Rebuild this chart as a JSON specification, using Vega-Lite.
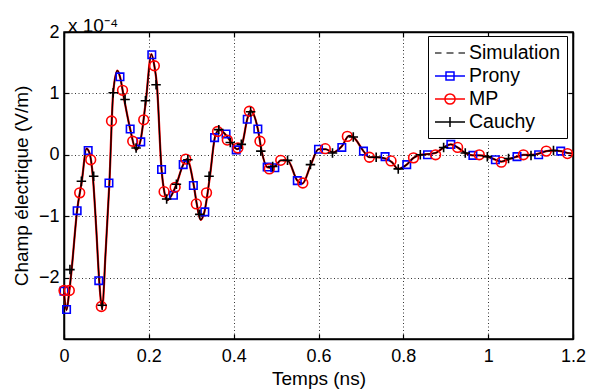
{
  "$schema": "https://vega.github.io/schema/vega-lite/v6.json",
  "width": 509,
  "height": 307,
  "autosize": {"type": "none"},
  "padding": {"left": 64, "top": 32, "right": 22, "bottom": 50},
  "background": "white",
  "title": {"text": "x 10⁻⁴", "anchor": "start", "frame": "group", "orient": "top", "font": "Liberation Sans", "fontSize": 19, "fontWeight": "normal", "dx": 4, "dy": 5, "offset": -8, "color": "black"},
  "config": {
    "view": {"stroke": "black", "strokeWidth": 1.5},
    "font": "Liberation Sans",
    "axis": {
      "domainColor": "black", "domainWidth": 1.5,
      "tickColor": "black", "tickWidth": 1.2, "tickSize": -5,
      "labelColor": "black", "labelFontSize": 18, "labelFont": "Liberation Sans",
      "titleColor": "black", "titleFontSize": 19, "titleFontWeight": "normal", "titleFont": "Liberation Sans",
      "gridColor": "black", "gridOpacity": 1, "gridWidth": 0.8, "gridDash": [1, 2.5]
    }
  },
  "datasets": {
    "curve": [
      {"series": "Simulation", "t": 0, "e": -2.25e-4},
      {"series": "Simulation", "t": 0.006, "e": -2.53e-4},
      {"series": "Simulation", "t": 0.012, "e": -2.25e-4},
      {"series": "Simulation", "t": 0.018, "e": -1.87e-4},
      {"series": "Simulation", "t": 0.031, "e": -0.9e-4},
      {"series": "Simulation", "t": 0.042, "e": -0.43e-4},
      {"series": "Simulation", "t": 0.053, "e": 0.1e-4},
      {"series": "Simulation", "t": 0.06, "e": 0.03e-4},
      {"series": "Simulation", "t": 0.068, "e": -0.35e-4},
      {"series": "Simulation", "t": 0.076, "e": -1.2e-4},
      {"series": "Simulation", "t": 0.083, "e": -2.05e-4},
      {"series": "Simulation", "t": 0.09, "e": -2.5e-4},
      {"series": "Simulation", "t": 0.098, "e": -1.6e-4},
      {"series": "Simulation", "t": 0.107, "e": -0.46e-4},
      {"series": "Simulation", "t": 0.116, "e": 1.01e-4},
      {"series": "Simulation", "t": 0.126, "e": 1.37e-4},
      {"series": "Simulation", "t": 0.132, "e": 1.27e-4},
      {"series": "Simulation", "t": 0.142, "e": 0.9e-4},
      {"series": "Simulation", "t": 0.156, "e": 0.42e-4},
      {"series": "Simulation", "t": 0.17, "e": 0.08e-4},
      {"series": "Simulation", "t": 0.18, "e": 0.22e-4},
      {"series": "Simulation", "t": 0.193, "e": 0.88e-4},
      {"series": "Simulation", "t": 0.206, "e": 1.64e-4},
      {"series": "Simulation", "t": 0.213, "e": 1.45e-4},
      {"series": "Simulation", "t": 0.219, "e": 1.14e-4},
      {"series": "Simulation", "t": 0.23, "e": -0.24e-4},
      {"series": "Simulation", "t": 0.237, "e": -0.62e-4},
      {"series": "Simulation", "t": 0.243, "e": -0.74e-4},
      {"series": "Simulation", "t": 0.258, "e": -0.6e-4},
      {"series": "Simulation", "t": 0.265, "e": -0.48e-4},
      {"series": "Simulation", "t": 0.281, "e": -0.16e-4},
      {"series": "Simulation", "t": 0.29, "e": -0.07e-4},
      {"series": "Simulation", "t": 0.306, "e": -0.5e-4},
      {"series": "Simulation", "t": 0.313, "e": -0.8e-4},
      {"series": "Simulation", "t": 0.322, "e": -1.06e-4},
      {"series": "Simulation", "t": 0.331, "e": -0.93e-4},
      {"series": "Simulation", "t": 0.344, "e": -0.35e-4},
      {"series": "Simulation", "t": 0.356, "e": 0.29e-4},
      {"series": "Simulation", "t": 0.366, "e": 0.41e-4},
      {"series": "Simulation", "t": 0.382, "e": 0.32e-4},
      {"series": "Simulation", "t": 0.396, "e": 0.19e-4},
      {"series": "Simulation", "t": 0.408, "e": 0.09e-4},
      {"series": "Simulation", "t": 0.42, "e": 0.18e-4},
      {"series": "Simulation", "t": 0.432, "e": 0.58e-4},
      {"series": "Simulation", "t": 0.44, "e": 0.72e-4},
      {"series": "Simulation", "t": 0.457, "e": 0.42e-4},
      {"series": "Simulation", "t": 0.466, "e": 0.06e-4},
      {"series": "Simulation", "t": 0.479, "e": -0.2e-4},
      {"series": "Simulation", "t": 0.49, "e": -0.21e-4},
      {"series": "Simulation", "t": 0.5, "e": -0.17e-4},
      {"series": "Simulation", "t": 0.511, "e": -0.09e-4},
      {"series": "Simulation", "t": 0.527, "e": -0.09e-4},
      {"series": "Simulation", "t": 0.55, "e": -0.42e-4},
      {"series": "Simulation", "t": 0.562, "e": -0.47e-4},
      {"series": "Simulation", "t": 0.582, "e": -0.16e-4},
      {"series": "Simulation", "t": 0.6, "e": 0.09e-4},
      {"series": "Simulation", "t": 0.617, "e": 0.09e-4},
      {"series": "Simulation", "t": 0.634, "e": 0.04e-4},
      {"series": "Simulation", "t": 0.655, "e": 0.14e-4},
      {"series": "Simulation", "t": 0.672, "e": 0.31e-4},
      {"series": "Simulation", "t": 0.682, "e": 0.29e-4},
      {"series": "Simulation", "t": 0.706, "e": 0.06e-4},
      {"series": "Simulation", "t": 0.72, "e": -0.04e-4},
      {"series": "Simulation", "t": 0.736, "e": -0.04e-4},
      {"series": "Simulation", "t": 0.757, "e": -0.06e-4},
      {"series": "Simulation", "t": 0.773, "e": -0.12e-4},
      {"series": "Simulation", "t": 0.788, "e": -0.23e-4},
      {"series": "Simulation", "t": 0.808, "e": -0.16e-4},
      {"series": "Simulation", "t": 0.824, "e": -0.05e-4},
      {"series": "Simulation", "t": 0.84, "e": 0},
      {"series": "Simulation", "t": 0.857, "e": 0.01e-4},
      {"series": "Simulation", "t": 0.876, "e": 0.03e-4},
      {"series": "Simulation", "t": 0.895, "e": 0.12e-4},
      {"series": "Simulation", "t": 0.912, "e": 0.17e-4},
      {"series": "Simulation", "t": 0.928, "e": 0.12e-4},
      {"series": "Simulation", "t": 0.946, "e": 0.03e-4},
      {"series": "Simulation", "t": 0.964, "e": -0.01e-4},
      {"series": "Simulation", "t": 0.979, "e": -0.01e-4},
      {"series": "Simulation", "t": 0.998, "e": -0.03e-4},
      {"series": "Simulation", "t": 1.017, "e": -0.08e-4},
      {"series": "Simulation", "t": 1.031, "e": -0.11e-4},
      {"series": "Simulation", "t": 1.048, "e": -0.07e-4},
      {"series": "Simulation", "t": 1.068, "e": -0.03e-4},
      {"series": "Simulation", "t": 1.083, "e": 0},
      {"series": "Simulation", "t": 1.101, "e": 0},
      {"series": "Simulation", "t": 1.119, "e": 0.02e-4},
      {"series": "Simulation", "t": 1.137, "e": 0.06e-4},
      {"series": "Simulation", "t": 1.154, "e": 0.07e-4},
      {"series": "Simulation", "t": 1.171, "e": 0.06e-4},
      {"series": "Simulation", "t": 1.187, "e": 0.03e-4},
      {"series": "Simulation", "t": 1.2, "e": 0.02e-4}
    ],
    "markers": [
      {"series": "Prony", "t": 0, "e": -2.22e-4},
      {"series": "Prony", "t": 0.006, "e": -2.52e-4},
      {"series": "Prony", "t": 0.031, "e": -0.91e-4},
      {"series": "Prony", "t": 0.057, "e": 0.07e-4},
      {"series": "Prony", "t": 0.082, "e": -2.05e-4},
      {"series": "Prony", "t": 0.106, "e": -0.46e-4},
      {"series": "Prony", "t": 0.132, "e": 1.27e-4},
      {"series": "Prony", "t": 0.156, "e": 0.42e-4},
      {"series": "Prony", "t": 0.181, "e": 0.21e-4},
      {"series": "Prony", "t": 0.207, "e": 1.63e-4},
      {"series": "Prony", "t": 0.23, "e": -0.24e-4},
      {"series": "Prony", "t": 0.258, "e": -0.66e-4},
      {"series": "Prony", "t": 0.281, "e": -0.16e-4},
      {"series": "Prony", "t": 0.305, "e": -0.5e-4},
      {"series": "Prony", "t": 0.332, "e": -0.93e-4},
      {"series": "Prony", "t": 0.355, "e": 0.28e-4},
      {"series": "Prony", "t": 0.382, "e": 0.34e-4},
      {"series": "Prony", "t": 0.406, "e": 0.08e-4},
      {"series": "Prony", "t": 0.432, "e": 0.58e-4},
      {"series": "Prony", "t": 0.457, "e": 0.42e-4},
      {"series": "Prony", "t": 0.479, "e": -0.2e-4},
      {"series": "Prony", "t": 0.497, "e": -0.21e-4},
      {"series": "Prony", "t": 0.55, "e": -0.42e-4},
      {"series": "Prony", "t": 0.6, "e": 0.09e-4},
      {"series": "Prony", "t": 0.655, "e": 0.12e-4},
      {"series": "Prony", "t": 0.706, "e": 0.06e-4},
      {"series": "Prony", "t": 0.757, "e": -0.03e-4},
      {"series": "Prony", "t": 0.808, "e": -0.16e-4},
      {"series": "Prony", "t": 0.857, "e": 0},
      {"series": "Prony", "t": 0.912, "e": 0.17e-4},
      {"series": "Prony", "t": 0.964, "e": -0.01e-4},
      {"series": "Prony", "t": 1.017, "e": -0.08e-4},
      {"series": "Prony", "t": 1.068, "e": -0.03e-4},
      {"series": "Prony", "t": 1.119, "e": 0},
      {"series": "Prony", "t": 1.171, "e": 0.06e-4},
      {"series": "MP", "t": 0, "e": -2.21e-4},
      {"series": "MP", "t": 0.0125, "e": -2.21e-4},
      {"series": "MP", "t": 0.037, "e": -0.62e-4},
      {"series": "MP", "t": 0.063, "e": -0.08e-4},
      {"series": "MP", "t": 0.088, "e": -2.47e-4},
      {"series": "MP", "t": 0.112, "e": 0.55e-4},
      {"series": "MP", "t": 0.138, "e": 1.05e-4},
      {"series": "MP", "t": 0.162, "e": 0.22e-4},
      {"series": "MP", "t": 0.188, "e": 0.57e-4},
      {"series": "MP", "t": 0.213, "e": 1.45e-4},
      {"series": "MP", "t": 0.236, "e": -0.6e-4},
      {"series": "MP", "t": 0.262, "e": -0.53e-4},
      {"series": "MP", "t": 0.287, "e": -0.07e-4},
      {"series": "MP", "t": 0.312, "e": -0.8e-4},
      {"series": "MP", "t": 0.336, "e": -0.62e-4},
      {"series": "MP", "t": 0.362, "e": 0.38e-4},
      {"series": "MP", "t": 0.385, "e": 0.24e-4},
      {"series": "MP", "t": 0.41, "e": 0.11e-4},
      {"series": "MP", "t": 0.437, "e": 0.71e-4},
      {"series": "MP", "t": 0.462, "e": 0.22e-4},
      {"series": "MP", "t": 0.484, "e": -0.23e-4},
      {"series": "MP", "t": 0.511, "e": -0.09e-4},
      {"series": "MP", "t": 0.563, "e": -0.46e-4},
      {"series": "MP", "t": 0.616, "e": 0.1e-4},
      {"series": "MP", "t": 0.668, "e": 0.3e-4},
      {"series": "MP", "t": 0.72, "e": -0.04e-4},
      {"series": "MP", "t": 0.771, "e": -0.1e-4},
      {"series": "MP", "t": 0.824, "e": -0.05e-4},
      {"series": "MP", "t": 0.876, "e": 0},
      {"series": "MP", "t": 0.928, "e": 0.12e-4},
      {"series": "MP", "t": 0.979, "e": 0},
      {"series": "MP", "t": 1.031, "e": -0.12e-4},
      {"series": "MP", "t": 1.083, "e": 0},
      {"series": "MP", "t": 1.137, "e": 0.06e-4},
      {"series": "MP", "t": 1.187, "e": 0.02e-4},
      {"series": "Cauchy", "t": 0.014, "e": -1.87e-4},
      {"series": "Cauchy", "t": 0.041, "e": -0.43e-4},
      {"series": "Cauchy", "t": 0.07, "e": -0.35e-4},
      {"series": "Cauchy", "t": 0.09, "e": -2.45e-4},
      {"series": "Cauchy", "t": 0.116, "e": 1.01e-4},
      {"series": "Cauchy", "t": 0.144, "e": 0.9e-4},
      {"series": "Cauchy", "t": 0.17, "e": 0.11e-4},
      {"series": "Cauchy", "t": 0.192, "e": 0.88e-4},
      {"series": "Cauchy", "t": 0.217, "e": 1.14e-4},
      {"series": "Cauchy", "t": 0.242, "e": -0.72e-4},
      {"series": "Cauchy", "t": 0.265, "e": -0.48e-4},
      {"series": "Cauchy", "t": 0.292, "e": -0.08e-4},
      {"series": "Cauchy", "t": 0.32, "e": -0.97e-4},
      {"series": "Cauchy", "t": 0.342, "e": -0.35e-4},
      {"series": "Cauchy", "t": 0.365, "e": 0.41e-4},
      {"series": "Cauchy", "t": 0.392, "e": 0.2e-4},
      {"series": "Cauchy", "t": 0.418, "e": 0.17e-4},
      {"series": "Cauchy", "t": 0.44, "e": 0.7e-4},
      {"series": "Cauchy", "t": 0.464, "e": 0.06e-4},
      {"series": "Cauchy", "t": 0.492, "e": -0.19e-4},
      {"series": "Cauchy", "t": 0.527, "e": -0.09e-4},
      {"series": "Cauchy", "t": 0.581, "e": -0.16e-4},
      {"series": "Cauchy", "t": 0.633, "e": 0.03e-4},
      {"series": "Cauchy", "t": 0.682, "e": 0.29e-4},
      {"series": "Cauchy", "t": 0.736, "e": -0.04e-4},
      {"series": "Cauchy", "t": 0.788, "e": -0.23e-4},
      {"series": "Cauchy", "t": 0.84, "e": 0},
      {"series": "Cauchy", "t": 0.895, "e": 0.12e-4},
      {"series": "Cauchy", "t": 0.946, "e": 0.03e-4},
      {"series": "Cauchy", "t": 0.998, "e": -0.03e-4},
      {"series": "Cauchy", "t": 1.048, "e": -0.06e-4},
      {"series": "Cauchy", "t": 1.101, "e": -0.01e-4},
      {"series": "Cauchy", "t": 1.154, "e": 0.07e-4}
    ]
  },
  "resolve": {"axis": {"x": "independent", "y": "independent"}},
  "layer": [
    {
      "data": {"name": "curve"},
      "mark": {"type": "line", "color": "#ff0000", "strokeWidth": 2.2, "interpolate": "monotone"},
      "encoding": {
        "x": {"field": "t", "type": "quantitative", "scale": {"domain": [0, 1.2], "nice": false, "zero": false},
          "axis": {"orient": "bottom", "title": "Temps (ns)", "values": [0, 0.2, 0.4, 0.6, 0.8, 1, 1.2], "format": "~g", "grid": true, "labelPadding": 13, "titlePadding": 4, "labelFlush": false}},
        "y": {"field": "e", "type": "quantitative", "scale": {"domain": [-0.0003, 0.0002], "nice": false, "zero": false},
          "axis": {"orient": "left", "title": "Champ électrique (V/m)", "values": [-0.0002, -0.0001, 0, 0.0001, 0.0002], "labelExpr": "format(datum.value * 10000, '.0f')", "grid": true, "labelPadding": 10, "titlePadding": 7}},
        "order": {"field": "t", "type": "quantitative"}
      }
    },
    {
      "data": {"name": "curve"},
      "mark": {"type": "line", "color": "#000000", "strokeWidth": 1.3, "interpolate": "monotone"},
      "encoding": {
        "x": {"field": "t", "type": "quantitative", "scale": {"domain": [0, 1.2], "nice": false, "zero": false},
          "axis": {"orient": "top", "title": null, "labels": false, "values": [0, 0.2, 0.4, 0.6, 0.8, 1, 1.2], "grid": false}},
        "y": {"field": "e", "type": "quantitative", "scale": {"domain": [-0.0003, 0.0002], "nice": false, "zero": false},
          "axis": {"orient": "right", "title": null, "labels": false, "values": [-0.0002, -0.0001, 0, 0.0001, 0.0002], "grid": false}},
        "order": {"field": "t", "type": "quantitative"}
      }
    },
    {
      "data": {"name": "markers"},
      "transform": [{"filter": "datum.series === 'Prony'"}],
      "mark": {"type": "point", "shape": "square", "filled": false, "color": "#0000ff", "size": 56, "strokeWidth": 1.6, "opacity": 1},
      "encoding": {
        "x": {"field": "t", "type": "quantitative", "scale": {"domain": [0, 1.2], "nice": false, "zero": false}, "axis": null},
        "y": {"field": "e", "type": "quantitative", "scale": {"domain": [-0.0003, 0.0002], "nice": false, "zero": false}, "axis": null}
      }
    },
    {
      "data": {"name": "markers"},
      "transform": [{"filter": "datum.series === 'MP'"}],
      "mark": {"type": "point", "shape": "circle", "filled": false, "color": "#ff0000", "size": 95, "strokeWidth": 1.6, "opacity": 1},
      "encoding": {
        "x": {"field": "t", "type": "quantitative", "scale": {"domain": [0, 1.2], "nice": false, "zero": false}, "axis": null},
        "y": {"field": "e", "type": "quantitative", "scale": {"domain": [-0.0003, 0.0002], "nice": false, "zero": false}, "axis": null}
      }
    },
    {
      "data": {"name": "markers"},
      "transform": [{"filter": "datum.series === 'Cauchy'"}],
      "mark": {"type": "point", "shape": "M-1,0H1M0,-1V1", "filled": false, "color": "#000000", "size": 90, "strokeWidth": 1.6, "opacity": 1},
      "encoding": {
        "x": {"field": "t", "type": "quantitative", "scale": {"domain": [0, 1.2], "nice": false, "zero": false}, "axis": null},
        "y": {"field": "e", "type": "quantitative", "scale": {"domain": [-0.0003, 0.0002], "nice": false, "zero": false}, "axis": null}
      }
    },
    {
      "data": {"name": "markers"},
      "mark": {"type": "point", "filled": false, "opacity": 0, "size": 10},
      "encoding": {
        "x": {"field": "t", "type": "quantitative", "scale": {"domain": [0, 1.2], "nice": false, "zero": false}, "axis": null},
        "y": {"field": "e", "type": "quantitative", "scale": {"domain": [-0.0003, 0.0002], "nice": false, "zero": false}, "axis": null},
        "color": {"field": "series", "type": "nominal",
          "scale": {"domain": ["Simulation", "Prony", "MP", "Cauchy"], "range": ["#444444", "#0000ff", "#ff0000", "#000000"]},
          "legend": {"orient": "none", "legendX": 364, "legendY": 4, "title": null, "symbolSize": 400, "symbolStrokeWidth": 1.5, "symbolOpacity": 1,
            "labelFontSize": 19.5, "labelFont": "Liberation Sans", "labelColor": "black", "labelOffset": 13,
            "strokeColor": "black", "fillColor": "white", "padding": 6, "rowPadding": 2, "gridAlign": "all", "symbolOffset": 0,
            "encode": {"symbols": {"update": {"opacity": {"value": 1}, "strokeWidth": {"value": 1.5}}}}}},
        "shape": {"field": "series", "type": "nominal",
          "scale": {"domain": ["Simulation", "Prony", "MP", "Cauchy"], "range": [
            "M-1,0H-0.35M0.15,0H0.85M1.35,0H2",
            "M-1,0H2M0.1,-0.4H0.9V0.4H0.1Z",
            "M-1,0H2M-0.01,0A0.51,0.51,0,1,1,1.01,0A0.51,0.51,0,1,1,-0.01,0Z",
            "M-1,0H2M0.5,-0.5V0.5"]}}
      }
    }
  ]
}
